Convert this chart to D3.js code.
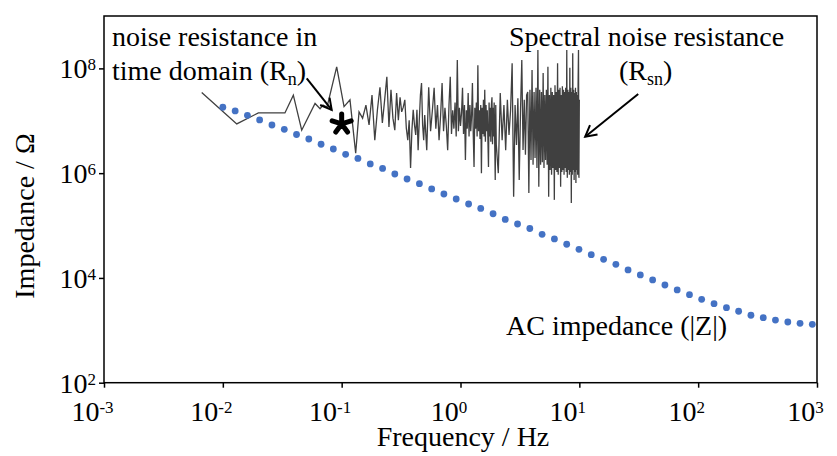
<!DOCTYPE html>
<html>
<head>
<meta charset="utf-8">
<script src="https://cdn.jsdelivr.net/npm/d3@7"></script>
<style>
  html, body { margin: 0; padding: 0; background: #fff; }
  svg { display: block; }
  text { font-family: "Liberation Serif", "Times New Roman", serif; fill: #000; }
</style>
</head>
<body>
<div id="chart"></div>
<script>
// Tick labels, as powers of ten.
const xTickExp = [-3, -2, -1, 0, 1, 2, 3];
const yTickExp = [2, 4, 6, 8];

// AC impedance |Z| (ohm) against frequency (Hz).
const acFreq = [0.01, 0.0127, 0.0161, 0.0204, 0.0259, 0.0329, 0.0417, 0.0529, 0.0671, 0.0851,
  0.108, 0.137, 0.174, 0.221, 0.280, 0.355, 0.451, 0.572, 0.725, 0.920,
  1.17, 1.48, 1.88, 2.38, 3.02, 3.83, 4.86, 6.17, 7.83, 9.93,
  12.6, 16.0, 20.3, 25.7, 32.6, 41.4, 52.5, 66.6, 84.5, 107,
  136, 173, 219, 278, 353, 447, 568, 720, 913];
const acZ = [1.81e7, 1.54e7, 1.27e7, 1.04e7, 8.30e6, 6.87e6, 5.47e6, 4.49e6, 3.56e6, 2.89e6,
  2.29e6, 1.91e6, 1.50e6, 1.23e6, 9.64e5, 7.74e5, 6.30e5, 4.99e5, 4.00e5, 3.21e5,
  2.58e5, 2.12e5, 1.68e5, 1.31e5, 1.07e5, 8.79e4, 6.81e4, 5.55e4, 4.39e4, 3.52e4,
  2.78e4, 2.27e4, 1.82e4, 1.42e4, 1.14e4, 9.14e3, 7.33e3, 5.89e3, 4.79e3, 3.91e3,
  3.23e3, 2.70e3, 2.31e3, 1.94e3, 1.74e3, 1.57e3, 1.44e3, 1.36e3, 1.30e3];

// Spectral noise resistance Rsn, log10(ohm). First bins, one by one.
const rsnLowFreq = [0.00664, 0.0131, 0.0199, 0.0265, 0.0333, 0.0392, 0.0461, 0.0597,
  0.0658, 0.0697, 0.0753, 0.0908, 0.1047, 0.1175, 0.1312];
const rsnLowLog = [7.54, 6.94, 7.15, 7.15, 7.15, 7.49, 6.82, 7.33,
  7.23, 7.30, 7.26, 8.03, 7.27, 7.40, 6.38];

// Denser bins: [first bin (Hz), bin width (Hz)] for each band below.
const rsnBins = [[0.14, 0.01], [0.52, 0.02], [2.08, 0.08]];
const rsnBandA = [7.17, 7.05, 7.30, 6.92, 7.49, 6.63, 7.21, 7.64, 6.96, 7.40,
  7.84, 6.88, 7.59, 7.05, 6.82, 7.53, 7.01, 7.45, 7.17, 7.26,
  7.40, 6.86, 6.63, 7.01, 6.10, 6.82, 7.21, 6.92, 6.73, 7.21,
  6.44, 7.01, 7.49, 7.72, 6.92, 6.63, 7.11];
const rsnBandB = [6.44, 7.64, 6.80, 7.20, 7.63, 6.85, 7.30, 6.63, 7.10, 7.72,
  6.80, 7.25, 6.90, 6.44, 7.30, 7.84, 6.75, 7.20, 6.85, 7.35,
  6.70, 8.16, 6.80, 7.25, 6.90, 7.15, 7.63, 6.75, 7.30, 6.25,
  7.20, 6.85, 7.53, 6.70, 7.30, 6.80, 7.10, 7.72, 6.75, 6.12,
  7.25, 6.85, 7.35, 6.70, 8.06, 6.80, 7.20, 6.65, 7.30, 6.00,
  7.25, 6.75, 7.40, 6.70, 7.59, 6.60, 7.30, 6.80, 7.20, 6.65,
  6.12, 7.35, 6.70, 7.25, 6.60, 7.30, 7.45, 6.55, 7.25, 6.70,
  7.35, 6.60, 5.87, 7.30, 6.55];
const rsnBandC = [6.00, 7.53, 6.63, 7.30, 6.44, 7.40, 6.73, 7.21, 8.10, 5.55,
  7.30, 6.54, 7.43, 5.87, 7.21, 8.16, 6.44, 7.40, 6.35, 7.49,
  7.55, 5.62, 7.59, 6.25, 7.97, 6.16, 7.55, 6.29, 7.63, 6.10,
  8.35, 5.74, 7.59, 6.16, 7.55, 6.21, 7.91, 6.10, 7.49, 6.25,
  7.59, 6.16, 8.03, 5.55, 7.49, 6.06, 7.63, 5.97, 7.55, 6.10,
  7.49, 5.49, 7.68, 6.06, 7.55, 6.02, 8.10, 5.97, 7.59, 6.10,
  7.63, 5.74, 7.49, 6.02, 7.66, 6.06, 7.59, 5.97, 7.55, 6.10,
  7.63, 6.02, 8.35, 5.91, 7.59, 6.06, 7.55, 5.97, 8.01, 6.02,
  7.63, 5.43, 7.55, 5.97, 8.29, 6.06, 7.59, 5.87, 7.53, 6.02,
  7.63, 5.81, 7.55, 6.06, 7.49, 5.97, 7.68, 8.35, 5.91, 7.40];

// Noise resistance in time domain, Rn: [Hz, ohm].
const rnPoint = [0.1, 8.7e6];

// Arrows: [from, to], each [Hz, ohm].
const rnArrow = [[0.0508, 6.47e7], [0.0824, 1.61e7]];
const rsnArrow = [[31.3, 3.24e7], [11.2, 4.97e6]];

const width = 837;
const height = 456;
const plot = {left: 104, right: 817, top: 16, bottom: 382.7};

const svg = d3.select('#chart')
    .append('svg')
        .attr('width', width)
        .attr('height', height);

svg.append('rect')
    .attr('width', width)
    .attr('height', height)
    .attr('fill', '#fff');

const x = d3.scaleLog().domain([1e-3, 1e3]).range([plot.left, plot.right]);
const y = d3.scaleLog().domain([1e2, 1e9]).range([plot.bottom, plot.top]);

// X axis.
const xAxis = svg.append('g')
    .attr('transform', `translate(0,${plot.bottom})`)
    .call(d3.axisBottom(x)
        .tickValues(xTickExp.map(e => 10 ** e))
        .tickSize(5)
        .tickSizeOuter(0)
        .tickFormat(''));
xAxis.select('.domain').remove();
xAxis.selectAll('.tick line').attr('stroke', '#000').attr('stroke-width', 1.5);
xAxis.selectAll('.tick text').remove();
xAxis.selectAll('.tick').each(function(d, i) {
    const t = d3.select(this).append('text')
        .attr('x', -12)
        .attr('y', 38)
        .style('font-size', '28px');
    t.append('tspan').text('10');
    t.append('tspan').attr('dy', -8).style('font-size', '17px').text(xTickExp[i]);
});

// Y axis.
const yAxis = svg.append('g')
    .attr('transform', `translate(${plot.left},0)`)
    .call(d3.axisLeft(y)
        .tickValues(yTickExp.map(e => 10 ** e))
        .tickSize(5)
        .tickSizeOuter(0)
        .tickFormat(''));
yAxis.select('.domain').remove();
yAxis.selectAll('.tick line').attr('stroke', '#000').attr('stroke-width', 1.5);
yAxis.selectAll('.tick text').remove();
yAxis.selectAll('.tick').each(function(d, i) {
    const t = d3.select(this).append('text')
        .attr('x', -8)
        .attr('y', 9.5)
        .attr('text-anchor', 'end')
        .style('font-size', '28px');
    t.append('tspan').text('10');
    t.append('tspan').attr('dy', -8).style('font-size', '17px').text(yTickExp[i]);
});

// Plot frame.
svg.append('rect')
    .attr('x', plot.left)
    .attr('y', plot.top)
    .attr('width', plot.right - plot.left)
    .attr('height', plot.bottom - plot.top)
    .attr('fill', 'none')
    .attr('stroke', '#000')
    .attr('stroke-width', 1.5);

// Axis titles.
svg.append('text')
    .attr('x', 463)
    .attr('y', 446)
    .attr('text-anchor', 'middle')
    .style('font-size', '28px')
    .text('Frequency / Hz');
svg.append('text')
    .attr('transform', 'translate(34,216) rotate(-90)')
    .attr('text-anchor', 'middle')
    .style('font-size', '28px')
    .text('Impedance / Ω');

// Spectral noise resistance line.
const rsn = rsnLowFreq.map((f, i) => [f, 10 ** rsnLowLog[i]]);
[rsnBandA, rsnBandB, rsnBandC].forEach((band, b) => {
    const [f0, df] = rsnBins[b];
    band.forEach((v, i) => rsn.push([f0 + i * df, 10 ** v]));
});
svg.append('path')
    .datum(rsn)
    .attr('fill', 'none')
    .attr('stroke', '#404040')
    .attr('stroke-width', 1.3)
    .attr('d', d3.line().x(d => x(d[0])).y(d => y(d[1])));

// AC impedance dots.
svg.selectAll('.ac')
    .data(acFreq.map((f, i) => [f, acZ[i]]))
    .enter()
    .append('circle')
        .attr('class', 'ac')
        .attr('cx', d => x(d[0]))
        .attr('cy', d => y(d[1]))
        .attr('r', 3.4)
        .attr('fill', '#4472c4');

// Rn marker, a bold five-armed asterisk.
const asterisk = {
    draw(ctx, size) {
        const r = Math.sqrt(size) / 2;
        for (let k = 0; k < 5; k++) {
            const a = k * 2 * Math.PI / 5;
            ctx.moveTo(0, 0);
            ctx.lineTo(r * Math.sin(a), -r * Math.cos(a));
        }
    }
};
svg.append('path')
    .attr('transform', `translate(${x(rnPoint[0])},${y(rnPoint[1])})`)
    .attr('d', d3.symbol().type(asterisk).size(400)())
    .attr('fill', 'none')
    .attr('stroke', '#000')
    .attr('stroke-width', 5)
    .attr('stroke-linecap', 'round');

// Arrows.
svg.append('defs').append('marker')
    .attr('id', 'head')
    .attr('markerUnits', 'userSpaceOnUse')
    .attr('markerWidth', 16)
    .attr('markerHeight', 14)
    .attr('refX', 12)
    .attr('refY', 7)
    .attr('orient', 'auto')
    .append('path')
        .attr('d', 'M1,1 L12,7 L1,13')
        .attr('fill', 'none')
        .attr('stroke', '#000')
        .attr('stroke-width', 2);
[rnArrow, rsnArrow].forEach(a => {
    svg.append('line')
        .attr('x1', x(a[0][0]))
        .attr('y1', y(a[0][1]))
        .attr('x2', x(a[1][0]))
        .attr('y2', y(a[1][1]))
        .attr('stroke', '#000')
        .attr('stroke-width', 2)
        .attr('marker-end', 'url(#head)');
});

// Annotations.
const note = (px, py) => svg.append('text')
    .attr('x', px)
    .attr('y', py)
    .style('font-size', '28px');
note(112, 46).text('noise resistance in');
const rnLabel = note(112, 80).text('time domain (R');
rnLabel.append('tspan').attr('dy', 5).style('font-size', '18px').text('n');
rnLabel.append('tspan').attr('dy', -5).text(')');
note(509, 46).text('Spectral noise resistance');
const rsnLabel = note(619, 80).text('(R');
rsnLabel.append('tspan').attr('dy', 5).style('font-size', '18px').text('sn');
rsnLabel.append('tspan').attr('dy', -5).text(')');
note(506, 335).text('AC impedance (|Z|)');
</script>
</body>
</html>
